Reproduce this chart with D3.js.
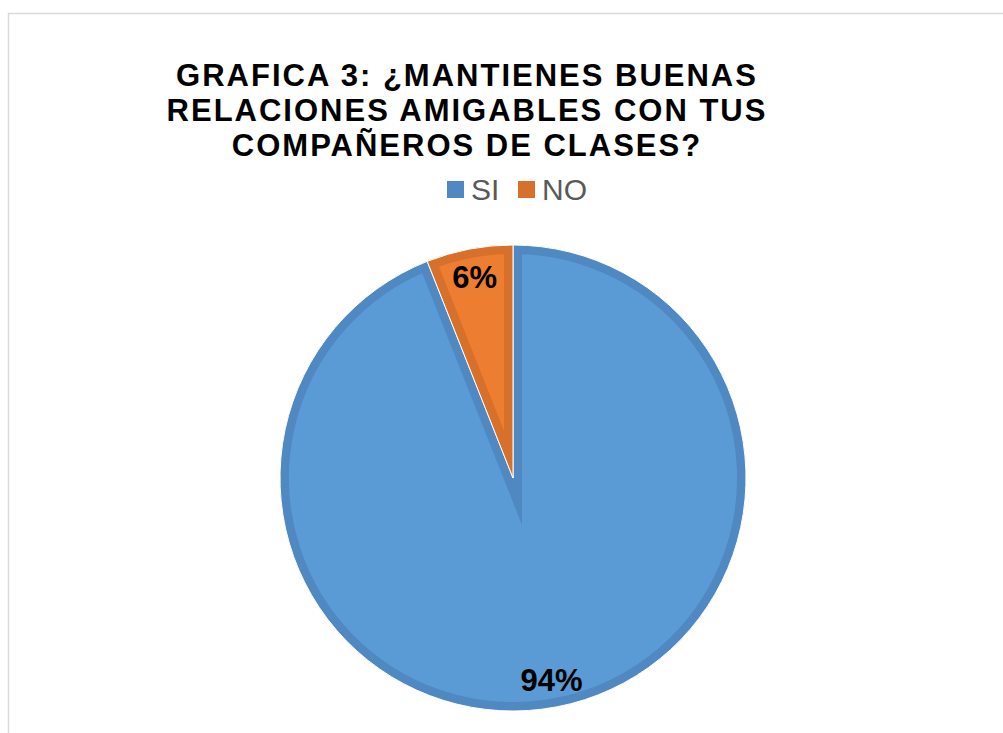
<!DOCTYPE html>
<html>
<head>
<meta charset="utf-8">
<script src="https://cdn.jsdelivr.net/npm/d3@7"></script>
<style>
  html, body { margin: 0; padding: 0; background: #fff; }
  svg { display: block; }
</style>
</head>
<body>
<svg id="chart" width="1003" height="733"></svg>
<script>
// chart data
var categories = ["SI", "NO"];
var values = [94, 6];
var fills = ["#5B9BD5", "#ED7D31"];
var edges = ["#5089C2", "#D6702B"];
var titleLines = ["GRAFICA 3: ¿MANTIENES BUENAS", "RELACIONES AMIGABLES CON TUS", "COMPAÑEROS DE CLASES?"];

var svg = d3.select("#chart");

// outer frame, runs off the right and bottom edges
svg.append("rect")
    .attr("x", 8.5)
    .attr("y", 13.5)
    .attr("width", 1100)
    .attr("height", 800)
    .attr("fill", "none")
    .attr("stroke", "#d9d9d9")
    .attr("stroke-width", 1.5);

// title
svg.append("g")
    .selectAll("text")
    .data(titleLines)
    .join("text")
    .attr("x", 467)
    .attr("y", function(d, i) { return 85.5 + i * 35.3; })
    .attr("text-anchor", "middle")
    .attr("font-family", "Liberation Sans, Arial, sans-serif")
    .attr("font-weight", "bold")
    .attr("font-size", 31)
    .attr("letter-spacing", 2)
    .attr("fill", "#000")
    .text(function(d) { return d; });

// legend
var legendX = [447, 518];
var legend = svg.append("g")
    .selectAll("g")
    .data(categories)
    .join("g")
    .attr("transform", function(d, i) { return "translate(" + legendX[i] + ",181)"; });

legend.append("rect")
    .attr("width", 17)
    .attr("height", 17)
    .attr("fill", function(d, i) { return edges[i]; });

legend.append("text")
    .attr("x", 24)
    .attr("y", 18.5)
    .attr("font-family", "Liberation Sans, Arial, sans-serif")
    .attr("font-size", 30)
    .attr("fill", "#595959")
    .text(function(d) { return d; });

// pie
var cx = 513, cy = 478, radius = 233, edgeWidth = 9;

var pie = d3.pie().sort(null).value(function(d) { return d; });
var arcs = pie(values);
var arc = d3.arc().innerRadius(0).outerRadius(radius);
var labelArc = d3.arc().innerRadius(205).outerRadius(205);

var pieG = svg.append("g").attr("transform", "translate(" + cx + "," + cy + ")");

var defs = svg.append("defs");
defs.selectAll("clipPath")
    .data(arcs)
    .join("clipPath")
    .attr("id", function(d, i) { return "slice" + i; })
    .append("path")
    .attr("d", arc);

var slices = pieG.selectAll("g.slice")
    .data(arcs)
    .join("g")
    .attr("class", "slice");

slices.append("path")
    .attr("d", arc)
    .attr("fill", function(d, i) { return fills[i]; });

// darker border drawn inside each slice
slices.append("path")
    .attr("d", arc)
    .attr("fill", "none")
    .attr("stroke", function(d, i) { return edges[i]; })
    .attr("stroke-width", edgeWidth * 2)
    .attr("stroke-linejoin", "miter")
    .attr("stroke-miterlimit", 20)
    .attr("clip-path", function(d, i) { return "url(#slice" + i + ")"; });

// thin white seam between slices
slices.append("path")
    .attr("d", arc)
    .attr("fill", "none")
    .attr("stroke", "#fff")
    .attr("stroke-width", 1);

pieG.selectAll("text.pct")
    .data(arcs)
    .join("text")
    .attr("class", "pct")
    .attr("transform", function(d) { return "translate(" + labelArc.centroid(d) + ")"; })
    .attr("dy", "0.36em")
    .attr("text-anchor", "middle")
    .attr("font-family", "Liberation Sans, Arial, sans-serif")
    .attr("font-weight", "bold")
    .attr("font-size", 31)
    .attr("fill", "#000")
    .text(function(d) { return d.data + "%"; });
</script>
</body>
</html>
